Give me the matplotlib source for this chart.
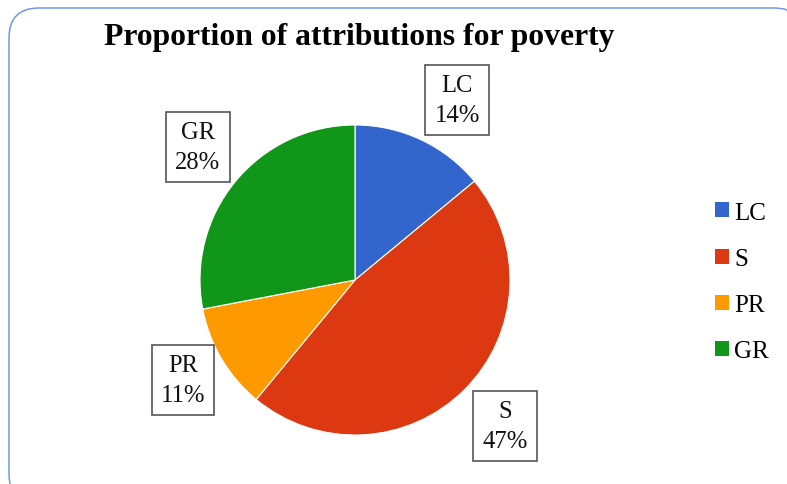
import matplotlib
matplotlib.use("Agg")
import matplotlib.pyplot as plt
from matplotlib.patches import FancyBboxPatch

# data
categories = ["LC", "S", "PR", "GR"]
shares = [14, 47, 11, 28]
colors = ["#3366CC", "#DC3912", "#FF9900", "#109618"]
title = "Proportion of attributions for poverty"

plt.rcParams["font.family"] = ["Liberation Serif", "DejaVu Serif"]

W, H = 787, 485
fig = plt.figure(figsize=(W / 100, H / 100), dpi=100)
# axes in pixel units (y up)
ax = fig.add_axes([0, 0, 1, 1])
ax.set_xlim(0, W)
ax.set_ylim(0, H)
ax.axis("off")

# rounded outer border
border = FancyBboxPatch((9, -20), 795, 496, boxstyle="round,pad=0,rounding_size=30",
                        facecolor="white", edgecolor="#6E9BDF", linewidth=1.1, zorder=0)
ax.add_patch(border)

labels = [f"{c}\n{v}%" for c, v in zip(categories, shares)]
wedges, texts = ax.pie(shares, colors=colors, startangle=90, counterclock=False,
                       center=(355, 204), radius=155, labels=labels, labeldistance=1.33,
                       wedgeprops=dict(edgecolor="white", linewidth=0.8),
                       textprops=dict(fontsize=17.7, color="#111111"))
ax.set_xlim(0, W)
ax.set_ylim(0, H)
ax.set_aspect("auto")

# label box centres (pixels from top-left)
label_pos = [(457, 101), (505, 427), (183, 381), (198, 148)]
for t, (px, py) in zip(texts, label_pos):
    t.set_position((px, H - py))
    t.set_ha("center")
    t.set_va("center")
    t.set_multialignment("center")
    t.set_linespacing(1.5)
    t.set_bbox(dict(boxstyle="square,pad=0.37", facecolor="white", edgecolor="#555555", linewidth=1.2))

fig.text(359 / W, 1 - 37 / H, title, ha="center", va="center",
         fontsize=22.8, fontweight="bold", color="black")

leg = ax.legend(wedges, categories, loc="center left", bbox_to_anchor=(715 / W, 1 - 283 / H),
                frameon=False, fontsize=18, handlelength=0.55, handleheight=0.55,
                handletextpad=0.22, labelspacing=0.97, borderaxespad=0, borderpad=0)
for h in leg.legend_handles:
    h.set_edgecolor("none")

fig.savefig("out.png", dpi=100)
